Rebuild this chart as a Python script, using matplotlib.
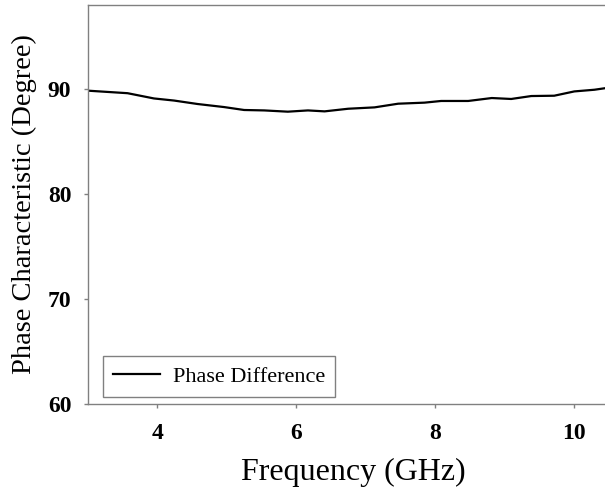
import matplotlib
matplotlib.use("Agg")
import matplotlib.pyplot as plt

# Phase difference
freq = [3.0, 3.57, 3.95, 4.24, 4.58, 4.96, 5.25, 5.54, 5.88, 6.17, 6.41, 6.75,
        7.13, 7.47, 7.85, 8.09, 8.48, 8.82, 9.10, 9.39, 9.72, 10.01, 10.30, 10.5]
phase = [89.84, 89.6, 89.1, 88.9, 88.57, 88.28, 88.0, 87.96, 87.84, 87.96, 87.87, 88.12,
         88.25, 88.6, 88.7, 88.86, 88.86, 89.14, 89.05, 89.33, 89.36, 89.77, 89.93, 90.12]

xticks = [4, 6, 8, 10]
yticks = [60, 70, 80, 90]

plt.rcParams['font.family'] = ['Liberation Serif', 'DejaVu Serif']

fig = plt.figure(figsize=(6.05, 4.9), dpi=100)
ax = fig.add_axes([0.1455, 0.1755, 0.86, 0.8143])

ax.plot(freq, phase, color='black', linewidth=1.6, label='Phase Difference')

ax.set_xlim(3, 10.5)
ax.set_ylim(60, 98)
ax.set_xticks(xticks)
ax.set_yticks(yticks)
ax.set_xticklabels([str(t) for t in xticks], fontsize=17, fontweight='bold')
ax.set_yticklabels([str(t) for t in yticks], fontsize=17, fontweight='bold')
ax.tick_params(direction='out', length=3, width=1, color='#808080')
ax.tick_params(axis='x', pad=11)
ax.tick_params(axis='y', pad=9)

for side in ['left', 'bottom', 'top']:
    ax.spines[side].set_color('#808080')
    ax.spines[side].set_linewidth(1.0)
ax.spines['right'].set_visible(False)

ax.set_xlabel('Frequency (GHz)', fontsize=23)
ax.xaxis.set_label_coords(0.51, -0.135)
ax.set_ylabel('Phase Characteristic (Degree)', fontsize=20.5, labelpad=8)

leg = ax.legend(loc='lower left', bbox_to_anchor=(0.029, 0.0175), borderaxespad=0,
                fontsize=16, fancybox=False, framealpha=1, edgecolor='#808080',
                handlelength=2.1, handletextpad=0.6, borderpad=0.45)
leg.get_frame().set_linewidth(1.0)

fig.savefig('out.png', dpi=100)
